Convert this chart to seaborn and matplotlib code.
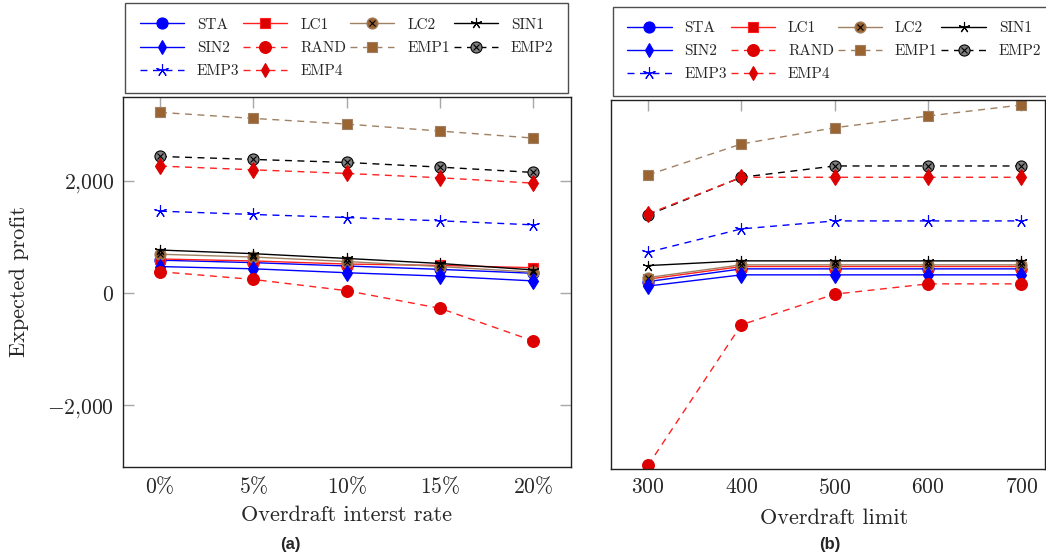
import numpy as np
import pandas as pd
import matplotlib
matplotlib.use("Agg")
import matplotlib.pyplot as plt
from matplotlib.lines import Line2D
from matplotlib.ticker import FixedLocator, FuncFormatter
import seaborn as sns

sns.set_style("white")
plt.rcParams["font.family"] = ["cmr10", "DejaVu Serif"]
plt.rcParams["mathtext.fontset"] = "cm"
plt.rcParams["axes.formatter.use_mathtext"] = True
plt.rcParams["axes.unicode_minus"] = False

# ---------------- data ----------------
series = ["STA", "LC1", "LC2", "SIN1", "SIN2", "RAND", "EMP1", "EMP2", "EMP3", "EMP4"]

rates = [0, 5, 10, 15, 20]
rate_labels = ["0%", "5%", "10%", "15%", "20%"]
a_STA = [584, 540, 480, 420, 350]
a_LC1 = [605, 570, 515, 490, 450]
a_LC2 = [690, 640, 560, 470, 370]
a_SIN1 = [765, 700, 615, 525, 410]
a_SIN2 = [470, 430, 360, 300, 214]
a_RAND = [378, 240, 40, -275, -857]
a_EMP1 = [3220, 3113, 3012, 2887, 2762]
a_EMP2 = [2434, 2381, 2327, 2244, 2149]
a_EMP3 = [1458, 1399, 1345, 1286, 1214]
a_EMP4 = [2262, 2196, 2131, 2054, 1958]

limits = [300, 400, 500, 600, 700]
b_STA = [255, 482, 482, 482, 482]
b_LC1 = [298, 524, 524, 524, 524]
b_LC2 = [327, 554, 554, 554, 554]
b_SIN1 = [541, 625, 625, 625, 625]
b_SIN2 = [175, 375, 375, 375, 375]
b_RAND = [-3030, -518, 30, 214, 214]
b_EMP1 = [2161, 2714, 3005, 3214, 3411]
b_EMP2 = [1446, 2119, 2321, 2321, 2321]
b_EMP3 = [780, 1196, 1339, 1339, 1339]
b_EMP4 = [1464, 2119, 2119, 2119, 2119]

data_a = dict(STA=a_STA, LC1=a_LC1, LC2=a_LC2, SIN1=a_SIN1, SIN2=a_SIN2,
              RAND=a_RAND, EMP1=a_EMP1, EMP2=a_EMP2, EMP3=a_EMP3, EMP4=a_EMP4)
data_b = dict(STA=b_STA, LC1=b_LC1, LC2=b_LC2, SIN1=b_SIN1, SIN2=b_SIN2,
              RAND=b_RAND, EMP1=b_EMP1, EMP2=b_EMP2, EMP3=b_EMP3, EMP4=b_EMP4)

df_a = pd.DataFrame(data_a, index=rates)
df_b = pd.DataFrame(data_b, index=limits)

# ---------------- styles ----------------
BLUE = "#0000ff"
RED_L = "#ff2020"
RED_M = "#dd0000"
BR_L = "#a08062"
BR_M = "#9a6432"
BLK = "#000000"
GRY = "#808080"
DASH = (5, 4)
STAR = (5, 2, 0)

styles = {
    "STA":  dict(color=BLUE, marker="o", ms=8, mfc=BLUE, mec=BLUE, ls="-", cross=False),
    "LC1":  dict(color=RED_L, marker="s", ms=7.5, mfc=RED_M, mec=RED_L, ls="-", cross=False),
    "LC2":  dict(color=BR_L, marker="o", ms=8, mfc=BR_M, mec=BR_L, ls="-", cross=True),
    "SIN1": dict(color=BLK, marker=STAR, ms=8, mfc=BLK, mec=BLK, ls="-", cross=False),
    "SIN2": dict(color=BLUE, marker="d", ms=8.5, mfc=BLUE, mec=BLUE, ls="-", cross=False),
    "RAND": dict(color=RED_L, marker="o", ms=8.5, mfc=RED_M, mec=RED_M, ls="--", cross=False),
    "EMP1": dict(color=BR_L, marker="s", ms=7.5, mfc=BR_M, mec=BR_L, ls="--", cross=False),
    "EMP2": dict(color=BLK, marker="o", ms=8, mfc=GRY, mec=BLK, ls="--", cross=True),
    "EMP3": dict(color=BLUE, marker=STAR, ms=9, mfc=BLUE, mec=BLUE, ls="--", cross=False),
    "EMP4": dict(color=RED_L, marker="d", ms=8.5, mfc=RED_M, mec=RED_M, ls="--", cross=False),
}

W, H = 1046, 557
fig = plt.figure(figsize=(W / 100, H / 100), dpi=100)

def px_rect(x0, y0, x1, y1):
    return [x0 / W, 1 - y1 / H, (x1 - x0) / W, (y1 - y0) / H]

ax_a = fig.add_axes(px_rect(122.7, 96.7, 570.7, 466.7))
ax_b = fig.add_axes(px_rect(610.7, 100, 1045, 469.3))

def draw(ax, df):
    for name in series:
        st = styles[name]
        kw = dict(color=st["color"], marker=st["marker"], markersize=st["ms"],
                  markerfacecolor=st["mfc"], markeredgecolor=st["mec"],
                  markeredgewidth=0.8, linewidth=1.0)
        if st["ls"] == "--":
            kw["dashes"] = DASH
        sns.lineplot(x=df.index, y=df[name].values, ax=ax, sort=False,
                     estimator=None, **kw)
        if st["cross"]:
            sns.lineplot(x=df.index, y=df[name].values, ax=ax, sort=False,
                         estimator=None, marker="x", markersize=5, linestyle="none",
                         color=BLK, markeredgecolor=BLK, markeredgewidth=0.8)

draw(ax_a, df_a)
draw(ax_b, df_b)

TICK_FS = 15.5
LAB_FS = 16

for ax in (ax_a, ax_b):
    ax.set_ylim(-3100, 3500)
    for s in ax.spines.values():
        s.set_color("#222222")
        s.set_linewidth(1.0)
    ax.tick_params(axis="both", direction="in", length=8, width=1.0,
                   color="#a8a8a8", labelsize=TICK_FS, top=True, pad=6)

ax_a.set_xlim(-2, 22)
ax_a.xaxis.set_major_locator(FixedLocator(rates))
ax_a.set_xticklabels(["$%s\\%%$" % r for r in rates])
ax_a.yaxis.set_major_locator(FixedLocator([-2000, 0, 2000]))
ax_a.yaxis.set_major_formatter(FuncFormatter(
    lambda v, p: "$%s$" % ("{:,}".format(int(v)).replace(",", "{,}"))))
ax_a.tick_params(axis="y", right=True, left=True)
ax_a.set_xlabel("Overdraft interst rate", fontsize=LAB_FS)
ax_a.set_ylabel("Expected profit", fontsize=LAB_FS)
ax_a.yaxis.set_label_coords(-0.21, 0.5)

ax_b.set_xlim(260, 260 + (1045 - 610.7) / 0.93333)
ax_b.xaxis.set_major_locator(FixedLocator(limits))
ax_b.set_xticklabels(["$%d$" % v for v in limits])
ax_b.set_yticks([])
ax_b.tick_params(axis="y", left=False, right=False)
ax_b.set_xlabel("Overdraft limit", fontsize=LAB_FS)
ax_b.set_ylabel("")
ax_b.xaxis.set_label_coords((834 - 610.7) / (1045 - 610.7), -0.105)
ax_a.xaxis.set_label_coords(0.5, -0.105)

# legends (column-major order so rows read STA LC1 LC2 SIN1 / SIN2 RAND EMP1 EMP2 / EMP3 EMP4)
leg_order = ["STA", "SIN2", "EMP3", "LC1", "RAND", "EMP4", "LC2", "EMP1", "SIN1", "EMP2"]

def handles():
    hs = []
    for name in leg_order:
        st = styles[name]
        ms = st["ms"] * (0.85 if st["marker"] == "d" else 1.0)
        l = Line2D([], [], color=st["color"], marker=st["marker"], markersize=ms,
                   markerfacecolor=st["mfc"], markeredgecolor=st["mec"],
                   markeredgewidth=0.8, linewidth=1.0,
                   linestyle="-")
        if st["ls"] == "--":
            l.set_dashes(DASH)
        if st["cross"]:
            c = Line2D([], [], marker="x", markersize=5, linestyle="none",
                       color=BLK, markeredgewidth=0.8)
            hs.append((l, c))
        else:
            hs.append(l)
    return hs

for x0, y0 in ((125, 9), (612.7, 12.3)):
    leg = fig.legend(handles(), leg_order, ncol=4, loc="upper left",
                     bbox_to_anchor=(x0 / W, 1 - y0 / H, 443 / W, 0.01),
                     mode="expand", fontsize=11, frameon=True, fancybox=False,
                     edgecolor="#222222", handlelength=2.9, handletextpad=0.85,
                     columnspacing=0.6, labelspacing=0.62, borderpad=0.95,
                     borderaxespad=0)
    leg.get_frame().set_linewidth(1.0)

fig.text(290 / W, 1 - 545 / H, "(a)", ha="center", va="center",
         fontsize=12, family="Liberation Sans", weight="bold")
fig.text(830 / W, 1 - 545 / H, "(b)", ha="center", va="center",
         fontsize=12, family="Liberation Sans", weight="bold")

fig.savefig("out.png", dpi=100)
